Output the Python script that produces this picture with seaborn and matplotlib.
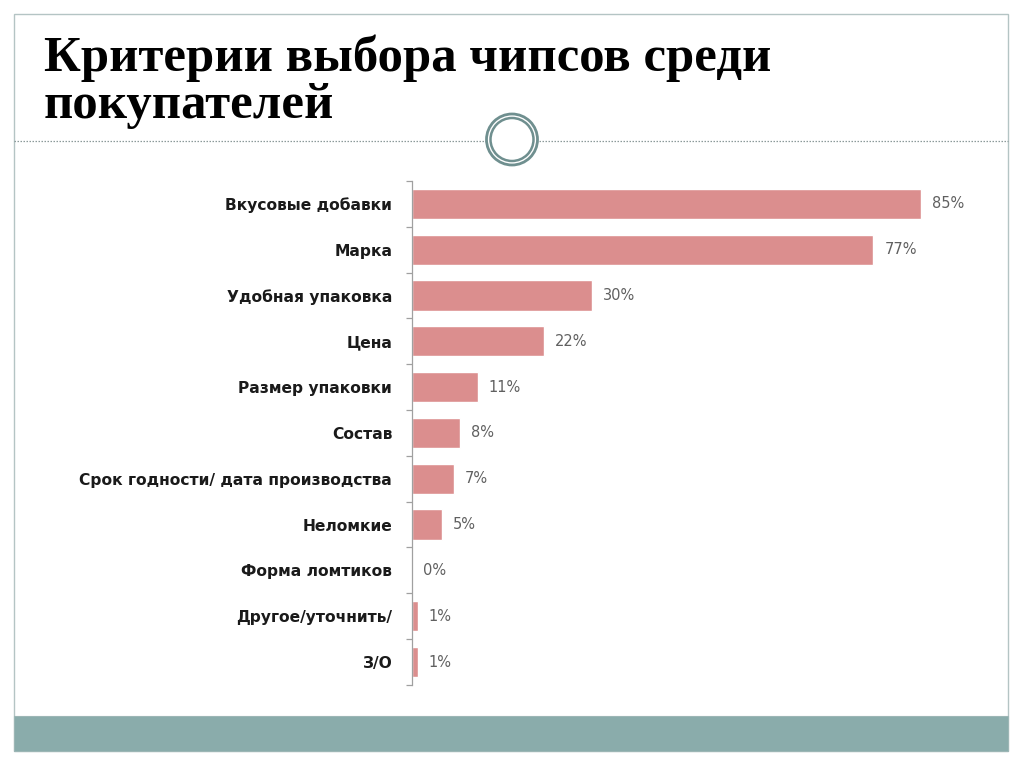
import numpy as np
import pandas as pd
import matplotlib
matplotlib.use('Agg')
import matplotlib.pyplot as plt
import seaborn as sns
from matplotlib.patches import Rectangle, Circle
from matplotlib.lines import Line2D

# --- данные ---
criteria = [
    'Вкусовые добавки',
    'Марка',
    'Удобная упаковка',
    'Цена',
    'Размер упаковки',
    'Состав',
    'Срок годности/ дата производства',
    'Неломкие',
    'Форма ломтиков',
    'Другое/уточнить/',
    'З/О',
]
shares = [85, 77, 30, 22, 11, 8, 7, 5, 0, 1, 1]
title = 'Критерии выбора чипсов среди\nпокупателей'

df = pd.DataFrame({'criterion': criteria, 'share': shares})

sns.set_theme(style='white')
plt.rcParams['font.family'] = ['DejaVu Sans']

fig = plt.figure(figsize=(10.24, 7.67), dpi=100)
fig.patch.set_facecolor('white')

# --- оформление слайда ---
fig.add_artist(Rectangle((0.0137, 0.021), 0.9707, 0.961, transform=fig.transFigure,
                         facecolor='none', edgecolor='#b4c4c4', linewidth=1.0, zorder=0))
fig.add_artist(Rectangle((0.0137, 0.021), 0.9707, 0.0456, transform=fig.transFigure,
                         facecolor='#8aacab', edgecolor='#9cb6b5', linewidth=0.8, zorder=1))
fig.add_artist(Line2D([0.0137, 0.9844], [0.816, 0.816], transform=fig.transFigure,
                      color='#8c9a9a', linewidth=0.9, linestyle=(0, (1.2, 1.2)), zorder=1))
fig.add_artist(Circle((5.12, 6.275), 0.255, transform=fig.dpi_scale_trans,
                      facecolor='white', edgecolor='#6f8f8f', linewidth=2.0, zorder=2))
fig.add_artist(Circle((5.12, 6.275), 0.215, transform=fig.dpi_scale_trans,
                      facecolor='white', edgecolor='#6f8f8f', linewidth=1.8, zorder=3))

fig.text(0.043, 0.955, title, ha='left', va='top', fontsize=36.5, fontweight='bold',
         family='Liberation Serif', color='black', linespacing=1.02)

# --- диаграмма ---
ax = fig.add_axes([0.402, 0.107, 0.527, 0.657])
sns.barplot(data=df, x='share', y='criterion', color='#db8e8e', saturation=1,
            width=0.66, ax=ax)
ax.bar_label(ax.containers[0], labels=[f'{v}%' for v in shares], padding=8,
             fontsize=10.5, color='#606060')

ax.set_xlim(0, 90)
ax.set_ylim(len(criteria) - 0.5, -0.5)
ax.set_xlabel('')
ax.set_ylabel('')
ax.set_xticks([])
for s in ['top', 'right', 'bottom']:
    ax.spines[s].set_visible(False)
ax.spines['left'].set_color('#a0a0a0')
ax.spines['left'].set_linewidth(0.9)

ax.set_yticks(np.arange(-0.5, len(criteria), 1), minor=True)
ax.tick_params(axis='y', which='minor', left=True, length=4, color='#a0a0a0', width=0.9)
ax.tick_params(axis='y', which='major', left=False, length=0, pad=14)
for lbl in ax.get_yticklabels():
    lbl.set_fontweight('bold')
    lbl.set_fontsize(11.2)
    lbl.set_color('#1a1a1a')

fig.savefig('out.png', dpi=100, facecolor='white')
